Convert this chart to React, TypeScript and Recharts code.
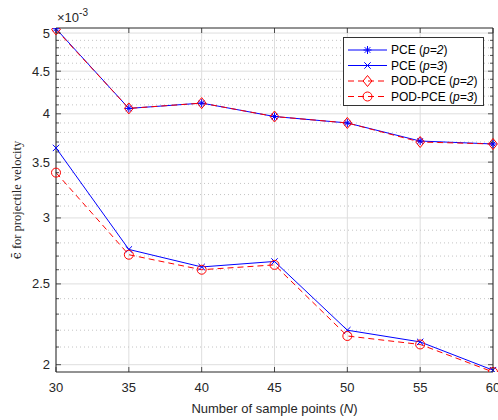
import React from 'react';
import { LineChart, Line, XAxis, YAxis, CartesianGrid, Legend } from 'recharts';

// ---- data (values in units of 1e-3) ----
const sampleN = [30, 35, 40, 45, 50, 55, 60];
const pceP2 = [5.06, 4.06, 4.12, 3.97, 3.9, 3.71, 3.68];
const pceP3 = [3.64, 2.75, 2.62, 2.66, 2.2, 2.13, 1.97];
const podP2 = [5.05, 4.06, 4.12, 3.97, 3.9, 3.7, 3.68];
const podP3 = [3.4, 2.71, 2.6, 2.635, 2.165, 2.115, 1.96];

const xTicks = [30, 35, 40, 45, 50, 55, 60];
const yMajor = [2, 2.5, 3, 3.5, 4, 4.5, 5];
const yMinor = [
  2.1, 2.2, 2.3, 2.4, 2.6, 2.7, 2.8, 2.9, 3.1, 3.2, 3.3, 3.4, 3.6, 3.7, 3.8, 3.9,
  4.1, 4.2, 4.3, 4.4, 4.6, 4.7, 4.8, 4.9,
];
const yAll = [...yMajor, ...yMinor].sort((a, b) => a - b);
const yDomain = [1.96, 5.07];

const data = sampleN.map((n, i) => ({
  N: n,
  pceP2: pceP2[i],
  pceP3: pceP3[i],
  podP2: podP2[i],
  podP3: podP3[i],
}));

const FONT = '"Liberation Sans", Arial, Helvetica, sans-serif';
const SERIF = '"Liberation Serif", "Times New Roman", serif';
const AXIS = '#262626';
const BLUE = '#0000ff';
const RED = '#ff0000';

const LeftTick = (props: any) => {
  const { x, y, payload } = props;
  const v = payload.value;
  const major = yMajor.includes(v);
  return (
    <g>
      <line x1={x} x2={x + (major ? 5 : 3)} y1={y} y2={y} stroke={AXIS} strokeWidth={0.8} />
      {major && (
        <text x={x - 6} y={y} dy="0.35em" textAnchor="end" fontSize={13} fill={AXIS} fontFamily={FONT}>
          {v}
        </text>
      )}
    </g>
  );
};

const RightTick = (props: any) => {
  const { x, y, payload } = props;
  const major = yMajor.includes(payload.value);
  return <line x1={x} x2={x - (major ? 5 : 3)} y1={y} y2={y} stroke={AXIS} strokeWidth={0.8} />;
};

const BottomTick = (props: any) => {
  const { x, y, payload } = props;
  return (
    <g>
      <line x1={x} x2={x} y1={y} y2={y - 5} stroke={AXIS} strokeWidth={0.8} />
      <text x={x} y={y + 15} dy="0.35em" textAnchor="middle" fontSize={13} fill={AXIS} fontFamily={FONT}>
        {payload.value}
      </text>
    </g>
  );
};

const TopTick = (props: any) => {
  const { x, y, index } = props;
  return (
    <g>
      <line x1={x} x2={x} y1={y} y2={y + 5} stroke={AXIS} strokeWidth={0.8} />
      {index === 0 && (
        <text x={x + 1} y={y - 6} fontSize={13} fill={AXIS} fontFamily={FONT}>
          ×10<tspan dy={-6} fontSize={10}>-3</tspan>
        </text>
      )}
    </g>
  );
};

const StarMark = ({ cx, cy, color }: any) => {
  const r = 4;
  const d = r * 0.707;
  return (
    <g stroke={color} strokeWidth={1} fill="none">
      <line x1={cx - r} x2={cx + r} y1={cy} y2={cy} />
      <line x1={cx} x2={cx} y1={cy - r} y2={cy + r} />
      <line x1={cx - d} x2={cx + d} y1={cy - d} y2={cy + d} />
      <line x1={cx - d} x2={cx + d} y1={cy + d} y2={cy - d} />
    </g>
  );
};
const CrossMark = ({ cx, cy, color }: any) => {
  const d = 3.2;
  return (
    <g stroke={color} strokeWidth={1} fill="none">
      <line x1={cx - d} x2={cx + d} y1={cy - d} y2={cy + d} />
      <line x1={cx - d} x2={cx + d} y1={cy + d} y2={cy - d} />
    </g>
  );
};
const DiamondMark = ({ cx, cy, color }: any) => {
  const r = 5.5;
  return (
    <path
      d={`M${cx},${cy - r}L${cx + r * 0.8},${cy}L${cx},${cy + r}L${cx - r * 0.8},${cy}Z`}
      stroke={color}
      strokeWidth={1}
      fill="none"
    />
  );
};
const CircleMark = ({ cx, cy, color }: any) => (
  <circle cx={cx} cy={cy} r={4.5} stroke={color} strokeWidth={1} fill="none" />
);

const legendRows = [
  { label: 'PCE (', p: 'p=2', color: BLUE, dash: undefined, Mark: StarMark },
  { label: 'PCE (', p: 'p=3', color: BLUE, dash: undefined, Mark: CrossMark },
  { label: 'POD-PCE (', p: 'p=2', color: RED, dash: '6 4', Mark: DiamondMark },
  { label: 'POD-PCE (', p: 'p=3', color: RED, dash: '6 4', Mark: CircleMark },
];

const LegendBox = () => (
  <svg width={141} height={69} style={{ display: 'block' }}>
    <rect x={0.5} y={0.5} width={140} height={68} fill="#ffffff" stroke="#333333" strokeWidth={1} />
    {legendRows.map((r, i) => {
      const y = 13 + i * 15.5;
      return (
        <g key={i}>
          <line x1={5} x2={44} y1={y} y2={y} stroke={r.color} strokeWidth={1} strokeDasharray={r.dash} />
          <r.Mark cx={24.5} cy={y} color={r.color} />
          <text x={48} y={y} dy="0.35em" fontSize={12} fill="#000" fontFamily={FONT}>
            {r.label}
            <tspan fontStyle="italic">{r.p}</tspan>)
          </text>
        </g>
      );
    })}
  </svg>
);

const mkDot = (Mark: any, color: string) => (props: any) => (
  <Mark key={`d-${props.index}`} cx={props.cx} cy={props.cy} color={color} />
);

export default function App() {
  return (
    <div style={{ position: 'absolute', left: 0, top: 0, width: 498, height: 420, background: '#fff' }}>
      <LineChart width={498} height={420} data={data} margin={{ top: 0, right: 0, bottom: 0, left: 0 }}>
        <CartesianGrid
          xAxisId="b"
          yAxisId="l"
          horizontalValues={yMajor}
          verticalValues={xTicks}
          stroke="#dedede"
          strokeWidth={1}
        />
        <CartesianGrid
          xAxisId="b"
          yAxisId="l"
          vertical={false}
          horizontalValues={yMinor}
          stroke="#c4c4c4"
          strokeWidth={1}
          strokeDasharray="1 3"
        />
        <XAxis
          xAxisId="b"
          dataKey="N"
          type="number"
          domain={[30, 60]}
          ticks={xTicks}
          interval={0}
          height={48}
          tickSize={0}
          tickMargin={0}
          tickLine={false}
          axisLine={{ stroke: AXIS, strokeWidth: 1 }}
          tick={<BottomTick />}
          label={{
            content: () => (
              <text x={274.5} y={408} dy="0.35em" textAnchor="middle" fontSize={13} fill={AXIS} fontFamily={FONT}>
                Number of sample points (<tspan fontStyle="italic">N</tspan>)
              </text>
            ),
          }}
        />
        <XAxis
          xAxisId="t"
          orientation="top"
          dataKey="N"
          type="number"
          domain={[30, 60]}
          ticks={xTicks}
          interval={0}
          height={28}
          tickSize={0}
          tickMargin={0}
          tickLine={false}
          axisLine={{ stroke: AXIS, strokeWidth: 1 }}
          tick={<TopTick />}
        />
        <YAxis
          yAxisId="l"
          scale="log"
          type="number"
          domain={yDomain}
          allowDataOverflow
          ticks={yAll}
          interval={0}
          width={56}
          tickSize={0}
          tickMargin={0}
          tickLine={false}
          axisLine={{ stroke: AXIS, strokeWidth: 1 }}
          tick={<LeftTick />}
          label={{
            content: () => (
              <text
                x={17}
                y={200}
                transform="rotate(-90 17 200)"
                dy="0.35em"
                textAnchor="middle"
                fontSize={12.5}
                fill={AXIS}
                fontFamily={SERIF}
              >
                <tspan fontFamily='"DejaVu Serif", serif'>{'\u03F5\u0304'}</tspan>
                {' for projectile velocity'}
              </text>
            ),
          }}
        />
        <YAxis
          yAxisId="r"
          orientation="right"
          scale="log"
          type="number"
          domain={yDomain}
          allowDataOverflow
          ticks={yAll}
          interval={0}
          width={5}
          tickSize={0}
          tickMargin={0}
          tickLine={false}
          axisLine={{ stroke: AXIS, strokeWidth: 1 }}
          tick={<RightTick />}
        />
        <Legend
          layout="vertical"
          align="center"
          verticalAlign="middle"
          content={() => <LegendBox />}
          wrapperStyle={{ position: 'absolute', left: 343, top: 37, width: 141, height: 69 }}
        />
        <Line
          xAxisId="b"
          yAxisId="l"
          dataKey="pceP2"
          stroke={BLUE}
          strokeWidth={1}
          dot={mkDot(StarMark, BLUE)}
          isAnimationActive={false}
        />
        <Line
          xAxisId="b"
          yAxisId="l"
          dataKey="pceP3"
          stroke={BLUE}
          strokeWidth={1}
          dot={mkDot(CrossMark, BLUE)}
          isAnimationActive={false}
        />
        <Line
          xAxisId="b"
          yAxisId="l"
          dataKey="podP2"
          stroke={RED}
          strokeWidth={1}
          strokeDasharray="6 4"
          dot={mkDot(DiamondMark, RED)}
          isAnimationActive={false}
        />
        <Line
          xAxisId="b"
          yAxisId="l"
          dataKey="podP3"
          stroke={RED}
          strokeWidth={1}
          strokeDasharray="6 4"
          dot={mkDot(CircleMark, RED)}
          isAnimationActive={false}
        />
      </LineChart>
    </div>
  );
}
